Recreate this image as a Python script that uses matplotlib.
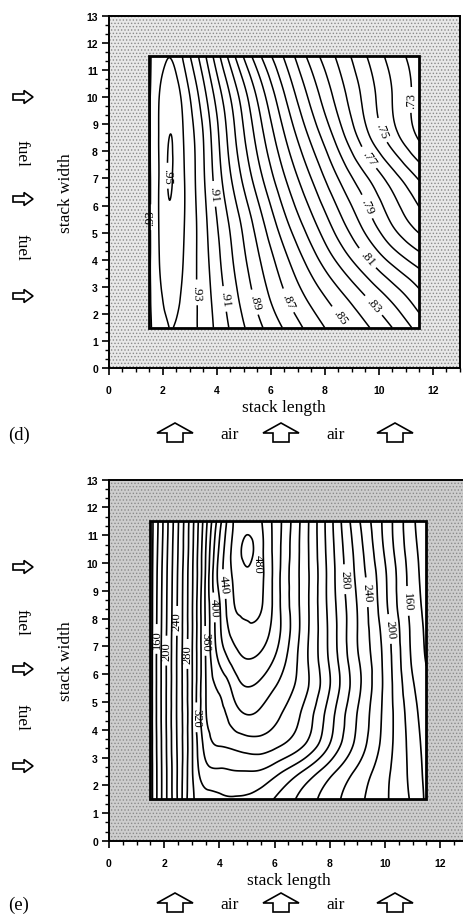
import numpy as np
import matplotlib
matplotlib.use("Agg")
import matplotlib.pyplot as plt
import matplotlib.tri as mtri
from matplotlib.patches import Rectangle, Polygon
from matplotlib.ticker import MultipleLocator

plt.rcParams["hatch.linewidth"] = 0.6

# ---------------- panel (d): efficiency field ----------------
d_x = [1.5, 1.9, 2.2, 2.5, 2.8, 3.2, 3.7, 4.5, 5.5, 6.5, 7.5, 8.5, 9.5, 10.5, 11.5]
d_y = [1.5, 2.5, 4.0, 5.5, 7.0, 8.5, 10.0, 11.5]
d_val = [
    [0.929, 0.935, 0.9398, 0.939, 0.935, 0.931, 0.923, 0.909, 0.893, 0.879, 0.866, 0.854, 0.842, 0.830, 0.816],
    [0.929, 0.938, 0.9428, 0.942, 0.937, 0.931, 0.922, 0.906, 0.888, 0.872, 0.858, 0.845, 0.832, 0.819, 0.805],
    [0.929, 0.941, 0.947, 0.945, 0.939, 0.931, 0.920, 0.902, 0.882, 0.863, 0.845, 0.828, 0.812, 0.797, 0.785],
    [0.929, 0.942, 0.9490, 0.947, 0.940, 0.931, 0.918, 0.898, 0.875, 0.852, 0.832, 0.813, 0.795, 0.778, 0.764],
    [0.929, 0.942, 0.9504, 0.947, 0.940, 0.930, 0.915, 0.891, 0.865, 0.841, 0.820, 0.800, 0.782, 0.765, 0.749],
    [0.929, 0.942, 0.9497, 0.947, 0.939, 0.929, 0.913, 0.886, 0.857, 0.831, 0.808, 0.786, 0.764, 0.745, 0.729],
    [0.929, 0.941, 0.946, 0.944, 0.936, 0.924, 0.907, 0.880, 0.849, 0.821, 0.797, 0.776, 0.757, 0.740, 0.726],
    [0.929, 0.936, 0.9398, 0.937, 0.927, 0.914, 0.896, 0.866, 0.834, 0.809, 0.786, 0.768, 0.751, 0.736, 0.725],
]
d_levels = [round(v / 100, 2) for v in range(72, 96)]
d_label_levels = [0.73, 0.75, 0.77, 0.79, 0.81, 0.83, 0.85, 0.87, 0.89, 0.91, 0.93, 0.95]

# ---------------- panel (e): power density field ----------------
e_x = [1.5, 1.75, 2.0, 2.5, 3.0, 3.5, 4.0, 4.5, 5.0, 5.5, 6.0, 7.0, 8.0, 9.0, 10.0, 11.0, 11.5]
e_y = [1.5, 2.5, 3.5, 4.5, 5.5, 6.5, 7.5, 8.5, 9.5, 10.5, 11.5]
e_val = [
    [130, 162, 190, 243, 295, 310, 316, 318, 317, 310, 299, 274, 249, 226, 203, 176, 156],
    [130, 162, 190, 243, 297, 333, 337, 339, 339.5, 338, 328, 300, 267, 236, 206, 173, 154],
    [130, 163, 191, 244, 297, 348, 362, 366, 371, 372, 366, 344, 300, 254, 212, 171, 152],
    [130, 164, 192, 245, 298, 358, 374, 389, 399, 395, 385, 357, 309, 259, 214, 168, 149],
    [130, 164, 192, 245, 298, 359, 383, 405, 419, 413, 400, 369, 320, 266, 215, 163, 145],
    [130, 164, 192, 245, 298, 360, 403, 427, 439, 434, 418, 371, 317, 263, 214, 157, 139],
    [130, 163, 191, 244, 297, 362, 415, 446, 455, 451, 431, 374, 315, 260, 211, 155, 137],
    [130, 162, 190, 243, 297, 363, 418, 458, 466, 462, 434, 374, 313, 259, 205, 152, 134],
    [130, 161, 189, 242, 296, 362, 428, 462, 476, 465, 434, 374, 312, 255, 203, 150, 131],
    [130, 159, 187, 240, 294, 359, 423, 465, 484, 466, 434, 374, 310, 251, 197, 147, 128],
    [130, 157, 185, 238, 292, 353, 412, 460, 472, 462, 434, 375, 308, 245, 194, 144, 125],
]
e_levels = list(range(140, 500, 20))
e_label_levels = [160, 200, 240, 280, 320, 360, 400, 440]
e_peak_level = 480

# label anchor points (data coordinates) for the contour labels
d_label_at = [(11.1, 9.9), (10.3, 8.84), (9.55, 7.71), (9.49, 5.93), (9.68, 4.15),
              (9.8, 2.31), (8.7, 2.0), (6.65, 2.5), (5.41, 2.44), (4.3, 2.56),
              (3.29, 2.8), (3.87, 6.43), (1.55, 5.57), (2.2, 7.1)]
e_label_at = [(4.14, 9.24), (3.72, 8.4), (3.48, 7.2), (2.87, 6.73),
              (2.57, 7.92), (2.09, 6.85), (1.73, 7.27), (3.18, 4.45),
              (8.55, 9.42), (9.34, 8.95), (10.18, 7.63), (10.85, 8.64)]
e_peak_label_at = (5.38, 10.0)


def refined(xs, ys, table):
    X, Y = np.meshgrid(xs, ys)
    nx, ny = len(xs), len(ys)
    idx = np.arange(nx * ny).reshape(ny, nx)
    a = idx[:-1, :-1].ravel(); b = idx[:-1, 1:].ravel()
    c = idx[1:, 1:].ravel(); d = idx[1:, :-1].ravel()
    tris = np.concatenate([np.stack([a, b, c], 1), np.stack([a, c, d], 1)])
    tri = mtri.Triangulation(X.ravel(), Y.ravel(), tris)
    z = np.asarray(table, dtype=float).ravel()
    interp = mtri.CubicTriInterpolator(tri, z, kind="min_E")
    return mtri.UniformTriRefiner(tri).refine_field(z, triinterpolator=interp, subdiv=4)


SERIF = "Liberation Serif"
SANS = "Liberation Sans"


def panel(ax, xs, ys, table, levels, lab_levels, lab_pts, fmt, shade, lw):
    ax.set_xlim(0, 13)
    ax.set_ylim(0, 13)
    ax.add_patch(Rectangle((0, 0), 13, 13, facecolor=shade, edgecolor="#8a8a8a",
                           hatch=".....", lw=0, zorder=0))
    ax.add_patch(Rectangle((1.5, 1.5), 10, 10, facecolor="white", edgecolor="none", zorder=1))
    tri, z = refined(xs, ys, table)
    plain = [v for v in levels if min(abs(v - w) for w in lab_levels) > 1e-9]
    ax.tricontour(tri, z, levels=plain, colors="black", linewidths=lw, zorder=2)
    cs = ax.tricontour(tri, z, levels=lab_levels, colors="black", linewidths=lw, zorder=2)
    texts = ax.clabel(cs, manual=lab_pts, fmt=fmt, fontsize=9,
                      inline=True, inline_spacing=3)
    for t in texts:
        t.set_fontfamily(SERIF)
    ax.add_patch(Rectangle((1.5, 1.5), 10, 10, facecolor="none", edgecolor="black",
                           lw=2.0, zorder=3))
    ax.xaxis.set_major_locator(MultipleLocator(2))
    ax.xaxis.set_minor_locator(MultipleLocator(0.5))
    ax.yaxis.set_major_locator(MultipleLocator(1))
    ax.yaxis.set_minor_locator(MultipleLocator(1 / 3))
    ax.tick_params(which="major", direction="out", length=5, width=1.2, labelsize=7.5, pad=7)
    ax.tick_params(which="minor", direction="out", length=3, width=1.0)
    ax.tick_params(axis="y", which="major", pad=3)
    for lbl in ax.get_xticklabels() + ax.get_yticklabels():
        lbl.set_fontfamily(SANS)
        lbl.set_fontweight("bold")
    for sp in ax.spines.values():
        sp.set_linewidth(1.4)
    ax.set_xlabel("stack length", fontfamily=SERIF, fontsize=12.5, labelpad=3)
    ax.set_ylabel("stack width", fontfamily=SERIF, fontsize=12.5, labelpad=9)
    return tri, z


fig = plt.figure(figsize=(4.64, 9.20), dpi=100)

ax_d = fig.add_axes([109 / 464, 1 - 369.3 / 920, 350.6 / 464, 352.6 / 920])
panel(ax_d, d_x, d_y, d_val, d_levels, d_label_levels, d_label_at,
      lambda v: f"{v:.2f}"[1:], "#e8e8e8", 1.1)

ax_e = fig.add_axes([109 / 464, 1 - 842 / 920, 358.8 / 464, 361.3 / 920])
tri_e, z_e = panel(ax_e, e_x, e_y, e_val,
                   [v for v in e_levels if v != e_peak_level], e_label_levels, e_label_at,
                   lambda v: f"{v:.0f}", "#cdcdcd", 1.2)
# the small closed peak contour carries its label beside it
ax_e.tricontour(tri_e, z_e, levels=[e_peak_level], colors="black", linewidths=1.2, zorder=2)
ax_e.text(*e_peak_label_at, f"{e_peak_level}", rotation=-90, ha="center", va="center",
          fontfamily=SERIF, fontsize=9, zorder=4)

# flow annotations drawn on a pixel-space overlay
deco = fig.add_axes([0, 0, 1, 1], zorder=5)
deco.set_xlim(0, 464)
deco.set_ylim(920, 0)
deco.axis("off")


def right_arrow(cx, cy):
    pts = [(cx - 10, cy - 3), (cx + 1, cy - 3), (cx + 1, cy - 6.5), (cx + 10, cy),
           (cx + 1, cy + 6.5), (cx + 1, cy + 3), (cx - 10, cy + 3)]
    deco.add_patch(Polygon(pts, closed=True, facecolor="white", edgecolor="black", lw=1.2))


def up_arrow(cx, cy):
    pts = [(cx - 8, cy + 10), (cx - 8, cy + 1), (cx - 18, cy + 1), (cx, cy - 9),
           (cx + 18, cy + 1), (cx + 8, cy + 1), (cx + 8, cy + 10)]
    deco.add_patch(Polygon(pts, closed=True, facecolor="white", edgecolor="black", lw=1.2))


for top, letter in ((0, "(d)"), (470, "(e)")):
    for yy in (98, 200, 297):
        right_arrow(23, top + yy)
    for yy in (153, 248):
        deco.text(21, top + yy, "fuel", rotation=-90, ha="center", va="center",
                  fontfamily=SERIF, fontsize=12.5)
    ay = top + 433
    for xx in (175, 281, 395):
        up_arrow(xx, ay)
    for xx in (230, 336):
        deco.text(xx, ay + 2, "air", ha="center", va="center", fontfamily=SERIF, fontsize=12.5)
    deco.text(8, ay + 2, letter, ha="left", va="center", fontfamily=SERIF, fontsize=13.5)

fig.savefig("out.png", dpi=100)
